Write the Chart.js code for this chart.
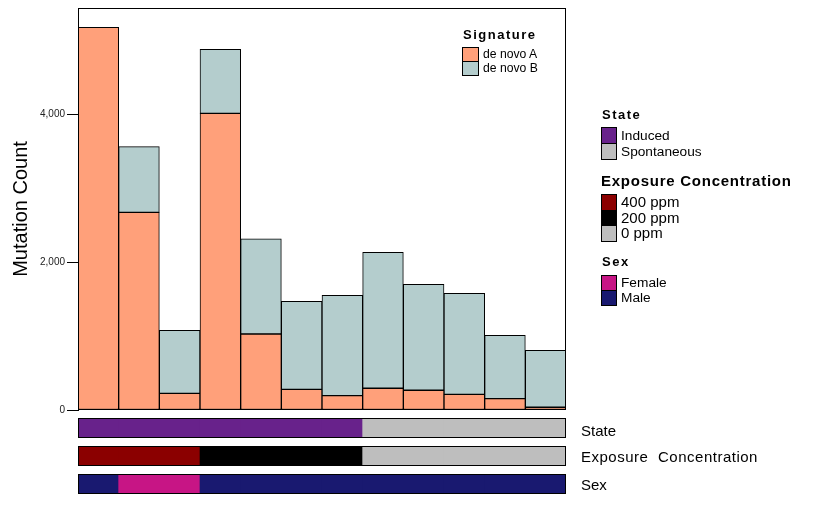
<!DOCTYPE html>
<html>
<head>
<meta charset="utf-8">
<script src="https://cdn.jsdelivr.net/npm/chart.js@4"></script>
<style>
body { margin: 0; background: #fff; font-family: "Liberation Sans", Arial, sans-serif; }
#wrap { position: relative; width: 838px; height: 508px; overflow: hidden; background: #fff; }
canvas { position: absolute; }
.t { position: absolute; white-space: nowrap; color: #000; }
.hd { font-weight: bold; }
.sw { position: absolute; box-sizing: border-box; border: 1px solid #000; }
</style>
</head>
<body>
<div id="wrap">
  <canvas id="main" width="838" height="508" style="left:0;top:0"></canvas>
</div>
<script>
// ---- data ----
const samples = ["S1", "S2", "S3", "S4", "S5", "S6", "S7", "S8", "S9", "S10", "S11", "S12"];
const denovoA = [5180, 2675, 226, 4015, 1028, 280, 194, 294, 267, 212, 153, 37];
const denovoB = [0, 888, 852, 866, 1290, 1191, 1358, 1840, 1434, 1367, 858, 771];
const yTicks = [0, 2000, 4000];

const state = ["Induced", "Induced", "Induced", "Induced", "Induced", "Induced", "Induced",
               "Spontaneous", "Spontaneous", "Spontaneous", "Spontaneous", "Spontaneous"];
const exposure = ["400 ppm", "400 ppm", "400 ppm", "200 ppm", "200 ppm", "200 ppm", "200 ppm",
                  "0 ppm", "0 ppm", "0 ppm", "0 ppm", "0 ppm"];
const sex = ["Male", "Female", "Female", "Male", "Male", "Male", "Male", "Male", "Male", "Male", "Male", "Male"];

const sigLabels = ["de novo A", "de novo B"];
const stateLabels = ["Induced", "Spontaneous"];
const exposureLabels = ["400 ppm", "200 ppm", "0 ppm"];
const sexLabels = ["Female", "Male"];

// ---- colours ----
const sigColors = { "de novo A": "#FFA07A", "de novo B": "#B4CDCD" };
const stateColors = { "Induced": "#68228B", "Spontaneous": "#BEBEBE" };
const exposureColors = { "400 ppm": "#8B0000", "200 ppm": "#000000", "0 ppm": "#BEBEBE" };
const sexColors = { "Female": "#C71585", "Male": "#191970" };

const FONT = '"Liberation Sans", Arial, sans-serif';

// box round the plot area
const frame = {
    id: "frame",
    afterDraw(chart) {
        const a = chart.chartArea, c = chart.ctx;
        c.save();
        c.strokeStyle = "#000";
        c.lineWidth = 1;
        c.strokeRect(a.left + 0.5, a.top + 0.5, a.right - a.left - 1, a.bottom - a.top - 1);
        c.restore();
    }
};

new Chart(document.getElementById("main"), {
    type: "bar",
    data: {
        labels: samples,
        datasets: [
            {
                label: sigLabels[0],
                data: denovoA,
                backgroundColor: sigColors["de novo A"],
                borderColor: "#000",
                borderWidth: 1,
                borderSkipped: false,
            },
            {
                label: sigLabels[1],
                data: denovoB,
                backgroundColor: sigColors["de novo B"],
                borderColor: "#000",
                borderWidth: 1,
                borderSkipped: false,
            },
        ],
    },
    options: {
        responsive: false,
        animation: false,
        layout: { padding: { top: 8, right: 272, bottom: 98, left: 0 } },
        datasets: { bar: { barPercentage: 1, categoryPercentage: 1 } },
        plugins: { legend: { display: false }, tooltip: { enabled: false } },
        scales: {
            x: { stacked: true, display: false },
            y: {
                stacked: true,
                min: 0,
                max: 5440,
                afterBuildTicks: (s) => { s.ticks = yTicks.map((v) => ({ value: v })); },
                afterFit: (s) => { s.width = 78; },
                grid: { drawOnChartArea: false, drawTicks: true, tickLength: 11, color: "#000" },
                border: { display: true, color: "#000", width: 1 },
                ticks: { color: "#222", padding: 2, font: { family: FONT, size: 10 } },
                title: {
                    display: true,
                    text: "Mutation Count",
                    color: "#000",
                    padding: { top: 9, bottom: 0 },
                    font: { family: FONT, size: 20 },
                },
            },
        },
    },
    plugins: [frame],
});

// ---- annotation tracks under the bars ----
const wrap = document.getElementById("wrap");

function track(values, colors, top, label, labelTop, extra) {
    const cv = document.createElement("canvas");
    cv.width = 490;
    cv.height = 22;
    cv.style.left = "77px";
    cv.style.top = (top - 1) + "px";
    wrap.appendChild(cv);
    new Chart(cv, {
        type: "bar",
        data: {
            labels: samples,
            datasets: [{
                data: values.map(() => 1),
                backgroundColor: values.map((v) => colors[v]),
                borderWidth: 0,
                barPercentage: 1,
                categoryPercentage: 1,
            }],
        },
        options: {
            responsive: false,
            animation: false,
            layout: { padding: 1 },
            plugins: { legend: { display: false }, tooltip: { enabled: false } },
            scales: {
                x: { display: false },
                y: { display: false, min: 0, max: 1 },
            },
        },
        plugins: [frame],
    });
    const t = document.createElement("div");
    t.className = "t";
    t.textContent = label;
    t.style.cssText += "left:581px;top:" + labelTop + "px;line-height:20px;font-size:15px;" + (extra || "");
    wrap.appendChild(t);
}

track(state, stateColors, 418, "State", 421);
track(exposure, exposureColors, 446, "Exposure Concentration", 447, "letter-spacing:0.5px;word-spacing:5px");
track(sex, sexColors, 474, "Sex", 475);

// ---- legends ----
function legend(o) {
    const h = document.createElement("div");
    h.className = "t hd";
    h.textContent = o.title;
    h.style.cssText += "left:" + o.x + "px;top:" + o.titleTop + "px;font-size:" + o.titleSize +
        "px;line-height:" + o.titleSize + "px;letter-spacing:" + o.spacing + "px";
    wrap.appendChild(h);
    o.items.forEach((name, i) => {
        const y = o.boxTop + i * o.step;
        const b = document.createElement("div");
        b.className = "sw";
        b.style.cssText += "left:" + o.boxX + "px;top:" + y + "px;width:" + o.boxW + "px;height:" +
            (o.step + 1) + "px;background:" + o.colors[name];
        wrap.appendChild(b);
        const t = document.createElement("div");
        t.className = "t";
        t.textContent = name;
        t.style.cssText += "left:" + (o.boxX + o.boxW + 4) + "px;top:" + y + "px;line-height:" +
            (o.step + 1) + "px;font-size:" + o.size + "px";
        wrap.appendChild(t);
    });
}

legend({ title: "Signature", x: 463, titleTop: 28, titleSize: 13, spacing: 1.5,
         items: sigLabels, colors: sigColors, boxX: 462, boxTop: 47, boxW: 17, step: 14, size: 12.2 });
legend({ title: "State", x: 602, titleTop: 108, titleSize: 13, spacing: 1.5,
         items: stateLabels, colors: stateColors, boxX: 601, boxTop: 127, boxW: 16, step: 16, size: 13.7 });
legend({ title: "Exposure Concentration", x: 601, titleTop: 173, titleSize: 15, spacing: 0.75,
         items: exposureLabels, colors: exposureColors, boxX: 601, boxTop: 194, boxW: 16, step: 15.5, size: 15 });
legend({ title: "Sex", x: 602, titleTop: 255, titleSize: 13, spacing: 1.5,
         items: sexLabels, colors: sexColors, boxX: 601, boxTop: 275, boxW: 16, step: 15, size: 13.7 });
</script>
</body>
</html>
